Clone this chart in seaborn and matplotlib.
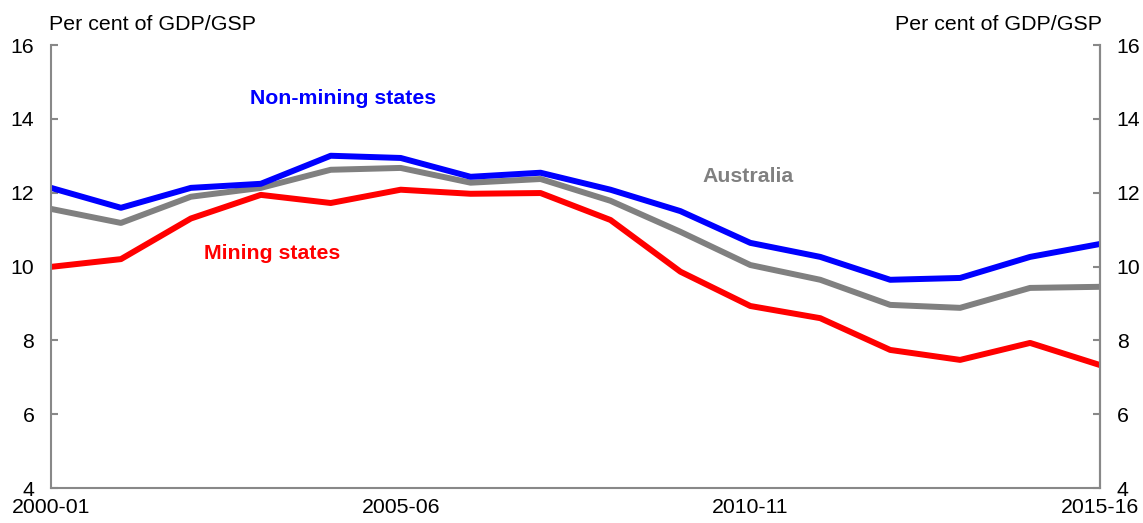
import pandas as pd
import matplotlib
matplotlib.use("Agg")
import matplotlib.pyplot as plt
import seaborn as sns

# Données (pour cent du PIB / PEB)
years = ["2000-01", "2001-02", "2002-03", "2003-04", "2004-05", "2005-06",
         "2006-07", "2007-08", "2008-09", "2009-10", "2010-11", "2011-12",
         "2012-13", "2013-14", "2014-15", "2015-16"]
non_mining = [12.13, 11.59, 12.13, 12.24, 13.0, 12.94, 12.43, 12.54,
              12.08, 11.5, 10.64, 10.26, 9.64, 9.69, 10.26, 10.61]
australia = [11.56, 11.18, 11.89, 12.13, 12.62, 12.67, 12.27, 12.37,
             11.78, 10.94, 10.04, 9.64, 8.96, 8.88, 9.42, 9.45]
mining = [9.99, 10.2, 11.3, 11.94, 11.72, 12.08, 11.97, 11.99,
          11.26, 9.86, 8.93, 8.6, 7.74, 7.47, 7.93, 7.33]
xtick_labels = ["2000-01", "2005-06", "2010-11", "2015-16"]

df = pd.DataFrame({
    "t": range(len(years)),
    "Non-mining states": non_mining,
    "Australia": australia,
    "Mining states": mining,
})
long = df.melt(id_vars="t", var_name="serie", value_name="val")

couleurs = {"Non-mining states": "#0000ff", "Australia": "#808080", "Mining states": "#ff0000"}

sns.set_style("white")
plt.rcParams["font.family"] = ["Liberation Sans", "DejaVu Sans"]
plt.rcParams["font.size"] = 15
plt.rcParams["text.color"] = "black"

fig = plt.figure(figsize=(11.43, 5.23), dpi=100)
ax = fig.add_axes([51 / 1143, 1 - 488 / 523, (1100 - 51) / 1143, (488 - 45) / 523])

# ordre de tracé : rouge, gris, bleu par-dessus
for nom in ["Mining states", "Australia", "Non-mining states"]:
    sns.lineplot(data=long[long["serie"] == nom], x="t", y="val", color=couleurs[nom],
                 linewidth=4.3, ax=ax, legend=False)

ax.set_xlim(0, 15)
ax.set_ylim(4, 16)
ax.set_xlabel("")
ax.set_ylabel("")
ax.set_xticks([0, 5, 10, 15])
ax.set_xticklabels(xtick_labels)
ax.set_yticks(range(4, 17, 2))

spine_col = "#888888"
ax.spines["top"].set_visible(False)
for s in ["left", "bottom", "right"]:
    ax.spines[s].set_color(spine_col)
    ax.spines[s].set_linewidth(1.5)

ax.tick_params(axis="y", direction="in", length=5, width=1.5, color=spine_col,
               pad=12, labelsize=15.3, labelcolor="black")
ax.tick_params(axis="x", direction="in", length=5, width=1.5, color=spine_col,
               pad=7, labelsize=15.3, labelcolor="black")

ax2 = ax.twinx()
ax2.set_ylim(4, 16)
ax2.set_yticks(range(4, 17, 2))
for s in ["top", "left", "bottom"]:
    ax2.spines[s].set_visible(False)
ax2.spines["right"].set_color(spine_col)
ax2.spines["right"].set_linewidth(1.5)
ax2.tick_params(axis="y", direction="in", length=5, width=1.5, color=spine_col,
                pad=12, labelsize=15.3, labelcolor="black")

fig.text(49 / 1143, 1 - 24 / 523, "Per cent of GDP/GSP", ha="left", va="center",
         fontsize=15.4, color="black")
fig.text(1102 / 1143, 1 - 24 / 523, "Per cent of GDP/GSP", ha="right", va="center",
         fontsize=15.4, color="black")

# étiquettes des séries
ax.text(2.85, 14.54, "Non-mining states", color="#0000ff", fontweight="bold",
        fontsize=15.3, va="center")
ax.text(9.32, 12.43, "Australia", color="#808080", fontweight="bold",
        fontsize=15.3, va="center")
ax.text(2.19, 10.34, "Mining states", color="#ff0000", fontweight="bold",
        fontsize=15.3, va="center")

fig.savefig("out.png", dpi=100)
